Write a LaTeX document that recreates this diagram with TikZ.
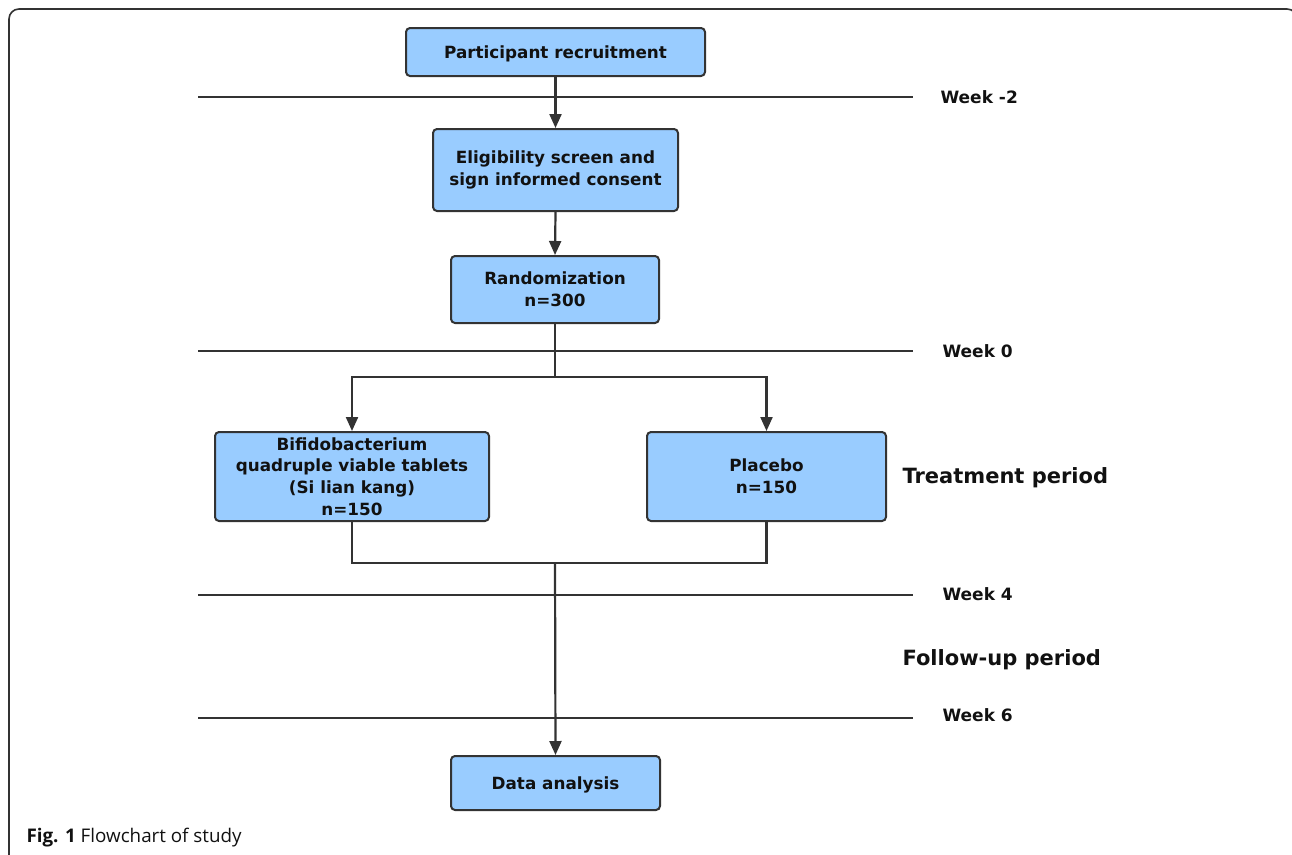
\documentclass[tikz,border=0pt]{standalone}
\usepackage{fontspec}
\setmainfont{DejaVu Sans}
\newfontfamily\capfont{Open Sans}
\usetikzlibrary{arrows.meta}
\definecolor{boxfill}{HTML}{99CCFF}
\definecolor{edge}{HTML}{333333}
\definecolor{txt}{HTML}{111111}
\begin{document}
\begin{tikzpicture}[x=1pt,y=-1pt,
  flowbox/.style={draw=edge,fill=boxfill,line width=2pt,rounded corners=4pt,align=center,
    font=\fontsize{16.8}{21.7}\selectfont\bfseries,text=txt,inner sep=0pt},
  conn/.style={draw=edge,line width=2.2pt},
  arr/.style={conn,-{Triangle[length=14pt,width=12pt]}},
  weekline/.style={draw=edge,line width=2pt},
  weeklab/.style={font=\fontsize{17}{20}\selectfont\bfseries,text=txt,anchor=west},
  periodlab/.style={font=\fontsize{21}{25}\selectfont\bfseries,text=txt,anchor=west}]
\useasboundingbox (0,0) rectangle (1292,854);
% frame
\draw[edge,line width=1.6pt,rounded corners=10pt] (9,860) -- (9,9) -- (1297,9) -- (1297,860);
% boxes
\node[flowbox,minimum width=299pt,minimum height=48pt,text depth=0pt] (rec) at (555.5,52) {Participant recruitment};
\node[flowbox,minimum width=245pt,minimum height=82pt] (elig) at (555.5,170) {Eligibility screen and\\sign informed consent};
\node[flowbox,minimum width=208pt,minimum height=67pt] (rand) at (555,289.5) {Randomization\\n=300};
\node[flowbox,minimum width=274pt,minimum height=89pt] (bif) at (352,476.5) {Bifidobacterium\\quadruple viable tablets\\(Si lian kang)\\n=150};
\node[flowbox,minimum width=239pt,minimum height=89pt] (plac) at (766.5,476.5) {Placebo\\n=150};
\node[flowbox,minimum width=209pt,minimum height=54pt,text depth=0pt] (data) at (555.5,783) {Data analysis};
% week lines
\coordinate (w2a) at (198,97); \coordinate (w2b) at (913,97);
\coordinate (w0a) at (198,351); \coordinate (w0b) at (913,351);
\coordinate (w4a) at (198,595); \coordinate (w4b) at (913,595);
\coordinate (w6a) at (198,718); \coordinate (w6b) at (913,718);
\draw[weekline] (w2a) -- (w2b);
\draw[weekline] (w0a) -- (w0b);
\draw[weekline] (w4a) -- (w4b);
\draw[weekline] (w6a) -- (w6b);
\node[weeklab] (l2) at (937,97) {Week -2};
\node[weeklab] (l0) at (939,351) {Week 0};
\node[weeklab] (l4) at (939,594) {Week 4};
\node[weeklab] (l6) at (939,715) {Week 6};
\node[periodlab] (tp) at (899,478) {Treatment period};
\node[periodlab] (fp) at (899,660) {Follow-up period};
% connectors
\draw[arr] (rec.south) -- (elig.north);
\draw[arr] (elig.south) -- (rand.north);
\coordinate (split) at (555,377);
\draw[conn] (rand.south) -- (split);
\draw[arr] (split) -| (bif.north);
\draw[arr] (split) -| (plac.north);
\coordinate (join) at (555,563);
\draw[conn] (bif.south) |- (join) -| (plac.south);
\draw[arr] (join) -- (data.north);
% caption
\node[anchor=west,font=\capfont\fontsize{18.8}{22}\selectfont,text=txt] (cap) at (23,838) {\textbf{Fig. 1} Flowchart of study};
\end{tikzpicture}
\end{document}
